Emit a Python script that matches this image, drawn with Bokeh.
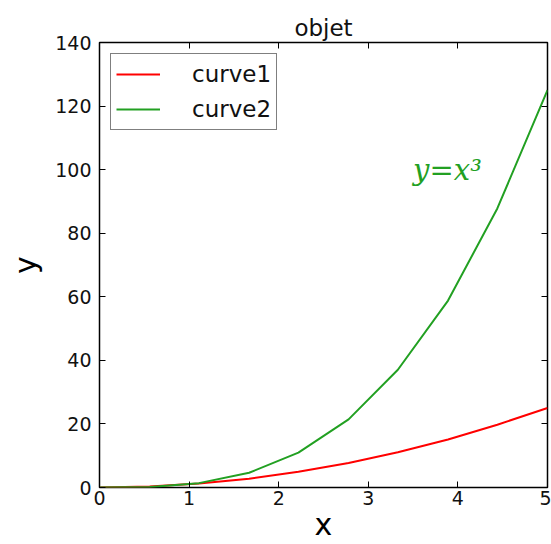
from bokeh.plotting import figure
from bokeh.models import LinearAxis, FixedTicker, Label, Legend, LegendItem, Range1d
from bokeh.embed import file_html
from bokeh.resources import INLINE

# data
x = [0.0, 0.56, 1.11, 1.67, 2.22, 2.78, 3.33, 3.89, 4.44, 5.0]
curve1 = [0.0, 0.31, 1.23, 2.78, 4.94, 7.72, 11.11, 15.12, 19.75, 25.0]
curve2 = [0.0, 0.17, 1.37, 4.63, 10.97, 21.43, 37.04, 58.81, 87.79, 125.0]
x_ticks = [0, 1, 2, 3, 4, 5]
y_ticks = [0, 20, 40, 60, 80, 100, 120, 140]
title = "objet"
x_label = "x"
y_label = "y"
annotation = "y=x³"
ann_x, ann_y = 3.5, 100

RED = "#ff0000"
GREEN = "#22a022"
FONT = "DejaVu Sans"
TEXT = "#111111"

p = figure(width=551, height=544, output_backend="svg", toolbar_location=None,
           x_range=Range1d(0, 5), y_range=Range1d(0, 140),
           x_axis_label=x_label, y_axis_label=y_label,
           min_border_left=99, min_border_right=4, min_border_top=42, min_border_bottom=56)

p.title.text = title
p.title.align = "center"
p.title.text_font = FONT
p.title.text_font_size = "23px"
p.title.text_font_style = "normal"
p.title.text_color = TEXT
p.title.standoff = 3

p.xgrid.visible = False
p.ygrid.visible = False
p.outline_line_color = "black"
p.outline_line_width = 1.5
p.outline_line_alpha = 1.0
p.background_fill_color = "white"
p.border_fill_color = "white"

def style_axis(ax, ticks, show_labels=True):
    ax.ticker = FixedTicker(ticks=ticks)
    ax.axis_line_color = None
    ax.major_tick_in = 6
    ax.major_tick_out = 0
    ax.major_tick_line_color = "black"
    ax.major_tick_line_width = 1
    ax.minor_tick_line_color = None
    ax.major_label_text_font = FONT
    ax.major_label_text_color = TEXT
    ax.major_label_text_font_size = "19px"
    if not show_labels:
        ax.major_label_overrides = {t: "" for t in ticks}
        ax.major_label_standoff = 0

style_axis(p.xaxis[0], x_ticks)
style_axis(p.yaxis[0], y_ticks)
p.xaxis[0].major_label_standoff = 3
p.yaxis[0].major_label_standoff = 8
for ax in (p.xaxis[0], p.yaxis[0]):
    ax.axis_label_text_font = FONT
    ax.axis_label_text_font_size = "30px"
    ax.axis_label_text_font_style = "normal"
    ax.axis_label_text_color = "black"
p.xaxis[0].axis_label_standoff = -1
p.xaxis[0].axis_label_text_baseline = "bottom"
p.yaxis[0].axis_label_standoff = 9

top = LinearAxis()
style_axis(top, x_ticks, show_labels=False)
p.add_layout(top, "above")
right = LinearAxis()
style_axis(right, y_ticks, show_labels=False)
p.add_layout(right, "right")

r1 = p.line(x, curve1, line_color=RED, line_width=2)
r2 = p.line(x, curve2, line_color=GREEN, line_width=2)

legend = Legend(items=[LegendItem(label="curve1", renderers=[r1]),
                       LegendItem(label="curve2", renderers=[r2])],
                location="top_left")
legend.margin = 11
legend.padding = 5
legend.spacing = 5
legend.label_height = 30
legend.glyph_height = 30
legend.glyph_width = 44
legend.label_standoff = 32
legend.label_text_font = FONT
legend.label_text_font_size = "23px"
legend.label_text_color = TEXT
legend.border_line_color = "black"
legend.border_line_width = 1.5
legend.background_fill_alpha = 1.0
p.add_layout(legend)

p.add_layout(Label(x=ann_x, y=ann_y, text=annotation, text_color=GREEN,
                   text_font="DejaVu Serif", text_font_style="italic",
                   text_font_size="29px", text_baseline="alphabetic"))

open("out.html", "w").write(file_html(p, INLINE))
